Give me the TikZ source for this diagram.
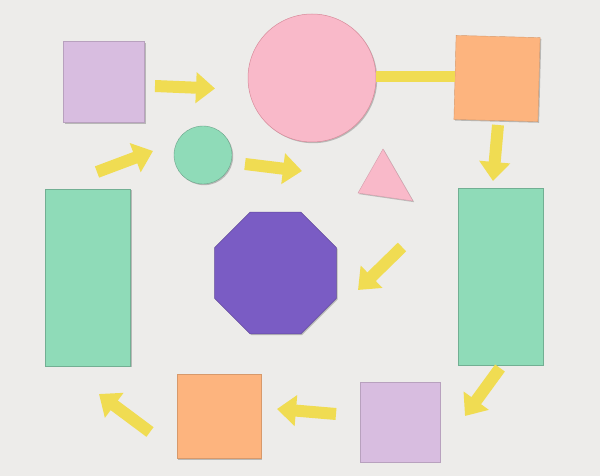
\documentclass[tikz,border=0pt]{standalone}
\usetikzlibrary{shapes.geometric,arrows.meta,shadows}
\definecolor{bgc}{HTML}{EDECEA}
\definecolor{lav}{HTML}{D8BDE0}
\definecolor{pnk}{HTML}{F9B9C9}
\definecolor{pnkedge}{HTML}{D88A9A}
\definecolor{org}{HTML}{FDB47E}
\definecolor{grn}{HTML}{8FDBB8}
\definecolor{prp}{HTML}{7A5CC4}
\definecolor{yel}{HTML}{F0DC52}
\tikzset{
  paper/.style={inner sep=0pt, outer sep=0pt,
    drop shadow={shadow xshift=1.2pt, shadow yshift=-1.2pt, opacity=0.22, fill=black}},
  sq/.style={paper, rectangle, minimum width=#1, minimum height=#1},
  rectv/.style={paper, rectangle, minimum width=85pt, minimum height=177pt, fill=grn, draw=grn!80!black, line width=0.4pt},
  yarrow/.style={draw=yel, line width=12pt, -{Triangle[width=30pt,length=19pt]}},
  ybar/.style={draw=yel, line width=11pt},
}
\begin{document}
\begin{tikzpicture}[x=1pt,y=-1pt]
\fill[bgc] (0,0) rectangle (600,476);
% shapes
\node[sq=81pt, fill=lav, draw=lav!85!black, line width=0.4pt] (lavTL) at (104,82) {};
\node[paper, circle, minimum size=128pt, fill=pnk, draw=pnkedge, line width=0.5pt] (pcirc) at (312,78) {};
\node[sq=84pt, fill=org, draw=org!85!black, line width=0.4pt, rotate=-1.5] (orgTR) at (497,78.5) {};
\node[paper, circle, minimum size=58pt, fill=grn, draw=grn!75!black, line width=0.4pt] (gcirc) at (203,155) {};
\coordinate (t1) at (383,149);
\coordinate (t2) at (358,193);
\coordinate (t3) at (413,201);
\fill[black, opacity=0.2] ([shift={(1.2,1.2)}]t1) -- ([shift={(1.2,1.2)}]t3) -- ([shift={(1.2,1.2)}]t2) -- cycle;
\filldraw[fill=pnk, draw=pnk!85!black, line width=0.4pt] (t1) -- (t3) -- (t2) -- cycle;
\node[rectv] (gL) at (88,277.5) {};
\node[rectv] (gR) at (500.5,276.5) {};
\node[paper, regular polygon, regular polygon sides=8, minimum size=132pt, fill=prp, draw=prp!80!black, line width=0.5pt] (oct) at (275.5,273) {};
\node[sq=80pt, fill=lav, draw=lav!85!black, line width=0.4pt] (lavBR) at (400,422) {};
\node[sq=84pt, fill=org, draw=org!85!black, line width=0.4pt] (orgB) at (219,416.5) {};
% bar between circle and orange square
\coordinate (barR) at (orgTR.west |- 0,76.5);
\draw[ybar] (pcirc.east |- 0,76.5) -- (barR);
% arrows
\coordinate (a1s) at (155,86); \coordinate (a1e) at (215,88.5);
\coordinate (a2s) at (97,172); \coordinate (a2e) at (153,151);
\coordinate (a3s) at (245,164); \coordinate (a3e) at (302,171);
\coordinate (a4s) at (498,125); \coordinate (a4e) at (493,181);
\coordinate (a5s) at (402,247); \coordinate (a5e) at (358,290);
\coordinate (a6s) at (500,368); \coordinate (a6e) at (465,416);
\coordinate (a7s) at (336,414); \coordinate (a7e) at (277,409);
\coordinate (a8s) at (150,432); \coordinate (a8e) at (99,394);
\foreach \i in {1,...,8} {\draw[yarrow] (a\i s) -- (a\i e);}
\end{tikzpicture}
\end{document}
